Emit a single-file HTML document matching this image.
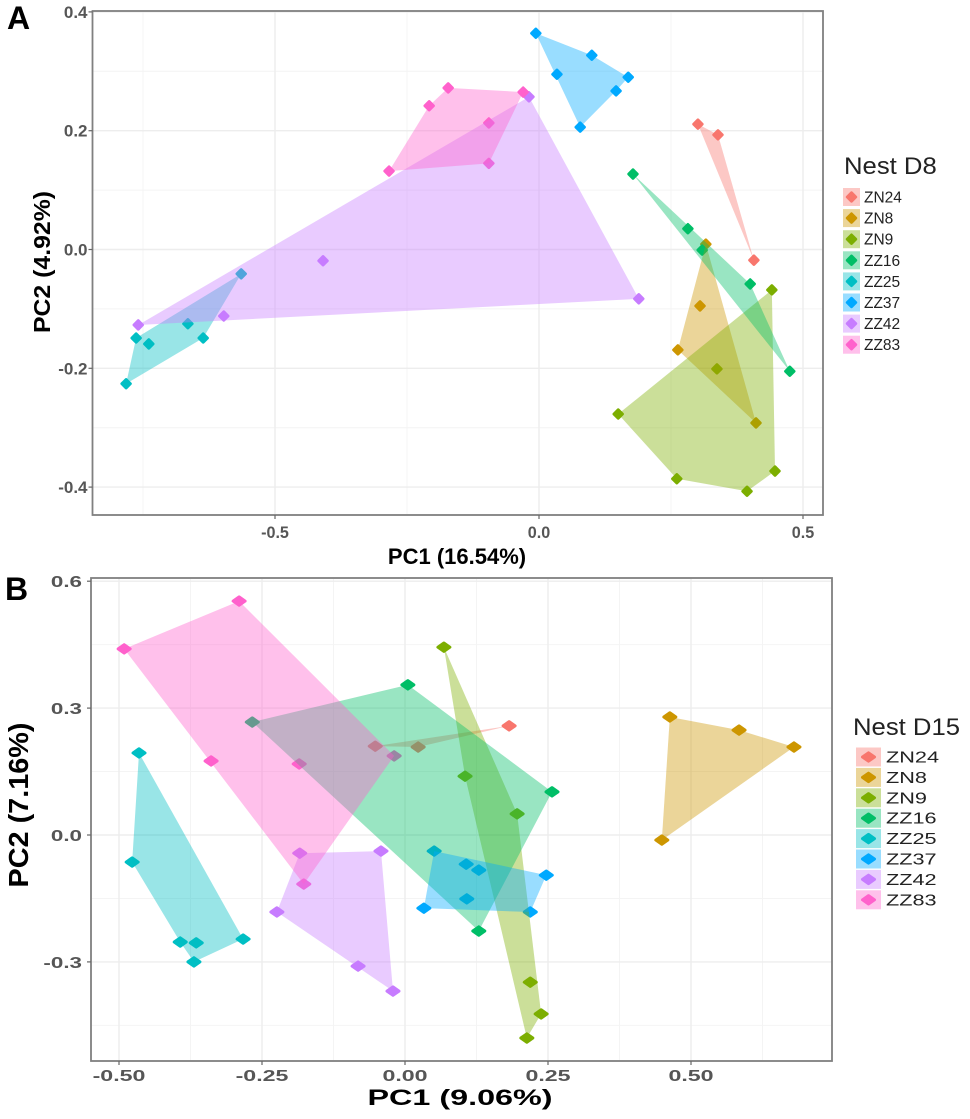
<!DOCTYPE html>
<html>
<head>
<meta charset="utf-8">
<title>PCA Nest D8 and D15</title>
<style>
html,body{margin:0;padding:0;background:#fff;width:970px;height:1119px;overflow:hidden}
svg{display:block;position:absolute;left:0;top:0}
text{font-family:"Liberation Sans",sans-serif}
</style>
</head>
<body>
<svg id="chart" width="970" height="1119" viewBox="0 0 970 1119" xmlns="http://www.w3.org/2000/svg"></svg>
<script>
const groups = ["ZN24","ZN8","ZN9","ZZ16","ZZ25","ZZ37","ZZ42","ZZ83"];
const colors = ["#F8766D","#CD9600","#7CAE00","#00BE67","#00BFC4","#00A9FF","#C77CFF","#FF61CC"];

const panelA_PC1 = [
  [0.301,0.339,0.407],
  [0.316,0.305,0.263,0.411],
  [0.150,0.261,0.394,0.447,0.441,0.337],
  [0.178,0.282,0.309,0.400,0.475],
  [-0.782,-0.763,-0.739,-0.665,-0.636,-0.564],
  [-0.006,0.100,0.169,0.146,0.078,0.034],
  [-0.019,0.189,-0.597,-0.759,-0.409],
  [-0.284,-0.208,-0.172,-0.030,-0.095,-0.095]
];
const panelA_PC2 = [
  [0.211,0.193,-0.018],
  [0.009,-0.095,-0.169,-0.292],
  [-0.277,-0.386,-0.407,-0.373,-0.068,-0.201],
  [0.127,0.035,-0.001,-0.058,-0.205],
  [-0.226,-0.149,-0.159,-0.125,-0.149,-0.041],
  [0.364,0.327,0.290,0.267,0.206,0.295],
  [0.257,-0.083,-0.112,-0.127,-0.019],
  [0.132,0.242,0.272,0.265,0.213,0.145]
];
const panelB_PC1 = [
  [0.182,-0.052,0.023],
  [0.463,0.584,0.680,0.449],
  [0.068,0.105,0.196,0.219,0.238,0.213],
  [-0.267,0.005,0.257,0.129],
  [-0.465,-0.477,-0.393,-0.365,-0.369,-0.283],
  [0.051,0.107,0.129,0.247,0.219,0.033,0.108],
  [-0.184,-0.042,-0.224,-0.082,-0.021],
  [-0.290,-0.491,-0.339,-0.185,-0.019,-0.177]
];
const panelB_PC2 = [
  [0.258,0.210,0.208],
  [0.279,0.248,0.208,-0.012],
  [0.444,0.139,0.050,-0.348,-0.423,-0.480],
  [0.267,0.355,0.102,-0.227],
  [0.194,-0.064,-0.253,-0.255,-0.300,-0.246],
  [-0.038,-0.069,-0.083,-0.095,-0.182,-0.173,-0.151],
  [-0.043,-0.038,-0.182,-0.310,-0.369],
  [0.553,0.440,0.175,0.168,0.187,-0.116]
];

const panelA_xTicks = [-0.5,0,0.5];
const panelA_xLabels = ["-0.5","0.0","0.5"];
const panelA_xMinor = [-0.75,-0.25,0.25];
const panelA_yTicks = [0.4,0.2,0,-0.2,-0.4];
const panelA_yLabels = ["0.4","0.2","0.0","-0.2","-0.4"];
const panelA_yMinor = [0.3,0.1,-0.1,-0.3];

const panelB_xTicks = [-0.5,-0.25,0,0.25,0.5];
const panelB_xLabels = ["-0.50","-0.25","0.00","0.25","0.50"];
const panelB_xMinor = [-0.375,-0.125,0.125,0.375,0.625];
const panelB_yTicks = [0.6,0.3,0,-0.3];
const panelB_yLabels = ["0.6","0.3","0.0","-0.3"];
const panelB_yMinor = [0.45,0.15,-0.15,-0.45];

const svg = document.getElementById('chart');
const NS = 'http://www.w3.org/2000/svg';

function make(tag, parent, props){
  const el = document.createElementNS(NS, tag);
  for (const k in props) el.setAttribute(k, props[k]);
  parent.appendChild(el);
  return el;
}
function label(parent, str, x, y, size, weight, fill, anchor, stretch, rotate){
  const t = make('text', parent, {
    transform: 'translate(' + x + ' ' + y + ')' + (rotate ? ' rotate(' + rotate + ')' : '') + ' scale(' + stretch + ' 1)',
    'font-size': size, 'font-weight': weight, fill: fill, 'text-anchor': anchor
  });
  t.textContent = str;
  return t;
}
function hull(pts){
  const p = pts.slice().sort(function(a,b){return a[0]-b[0] || a[1]-b[1];});
  const cross = function(o,a,b){return (a[0]-o[0])*(b[1]-o[1])-(a[1]-o[1])*(b[0]-o[0]);};
  const lo = [], up = [];
  for (const q of p){ while(lo.length>1 && cross(lo[lo.length-2],lo[lo.length-1],q)<=0) lo.pop(); lo.push(q); }
  for (const q of p.slice().reverse()){ while(up.length>1 && cross(up[up.length-2],up[up.length-1],q)<=0) up.pop(); up.push(q); }
  lo.pop(); up.pop();
  return lo.concat(up);
}

function drawPanel(cfg){
  const sx = function(v){return cfg.x0 + v*cfg.kx;};
  const sy = function(v){return cfg.y0 - v*cfg.ky;};
  const g = make('g', svg, {});
  
  

  const grid = make('g', g, {});
  
  
  cfg.xMinor.forEach(function(v){ make('line', grid, {x1:sx(v),x2:sx(v),y1:cfg.top,y2:cfg.bottom,stroke:'#f4f4f4','stroke-width':1}); });
  cfg.yMinor.forEach(function(v){ make('line', grid, {x1:cfg.left,x2:cfg.right,y1:sy(v),y2:sy(v),stroke:'#f4f4f4','stroke-width':1}); });
  cfg.xTicks.forEach(function(v){ make('line', grid, {x1:sx(v),x2:sx(v),y1:cfg.top,y2:cfg.bottom,stroke:'#ededed','stroke-width':1.4}); });
  cfg.yTicks.forEach(function(v){ make('line', grid, {x1:cfg.left,x2:cfg.right,y1:sy(v),y2:sy(v),stroke:'#ededed','stroke-width':1.4}); });

  const pts = make('g', g, {});
  
  
  groups.forEach(function(name, i){
    cfg.px[i].forEach(function(v, j){
      const cx = sx(v), cy = sy(cfg.py[i][j]);
      const m = make('polygon', pts, {
        points: (cx-cfg.mx)+','+cy+' '+cx+','+(cy-cfg.my)+' '+(cx+cfg.mx)+','+cy+' '+cx+','+(cy+cfg.my),
        fill: colors[i], stroke: colors[i], 'stroke-width': 3, 'stroke-linejoin': 'round'
      });
      
      
    });
  });

  const polys = make('g', g, {});
  
  
  groups.forEach(function(name, i){
    const h = hull(cfg.px[i].map(function(v, j){return [sx(v), sy(cfg.py[i][j])];}));
    const poly = make('polygon', polys, {
      points: h.map(function(q){return q[0]+','+q[1];}).join(' '),
      fill: colors[i], 'fill-opacity': 0.4
    });
    
    
  });

  const frame = make('rect', g, {x:cfg.left,y:cfg.top,width:cfg.right-cfg.left,height:cfg.bottom-cfg.top,fill:'none',stroke:'#808080','stroke-width':1.8});
  
  

  const xa = make('g', g, {});
  
  
  cfg.xTicks.forEach(function(v, i){
    make('line', xa, {x1:sx(v),x2:sx(v),y1:cfg.bottom,y2:cfg.bottom+4,stroke:'#666','stroke-width':1.2});
    const t = label(xa, cfg.xLabels[i], sx(v), cfg.xLabelY, cfg.tickSize, 'bold', '#565656', 'middle', cfg.xStretch);
    
    
  });
  const ya = make('g', g, {});
  
  
  cfg.yTicks.forEach(function(v, i){
    make('line', ya, {x1:cfg.left-4,x2:cfg.left,y1:sy(v),y2:sy(v),stroke:'#666','stroke-width':1.2});
    const t = label(ya, cfg.yLabels[i], cfg.left-cfg.yLabelGap, sy(v)+6, cfg.tickSize, 'bold', '#565656', 'end', cfg.yStretch);
    
    
  });

  const xt = label(g, cfg.xTitle, cfg.xTitleX, cfg.xTitleY, cfg.xTitleSize, 'bold', '#000', 'middle', cfg.xTitleStretch);
  
  
  const yt = label(g, cfg.yTitle, cfg.yTitleX, cfg.yTitleY, cfg.yTitleSize, 'bold', '#000', 'middle', cfg.yTitleStretch, -90);
  
  

  const lg = make('g', g, {});
  
  
  const lt = label(lg, cfg.legendTitle, cfg.lgTitleX, cfg.lgTitleY, 24, 'normal', '#222', 'start', cfg.lgTitleStretch);
  
  
  groups.forEach(function(name, i){
    const cy = cfg.lgY0 + i*cfg.lgStep;
    const entry = make('g', lg, {});
    
    
    make('rect', entry, {x:cfg.lgX,y:cy-cfg.lgH/2,width:cfg.lgW,height:cfg.lgH,fill:colors[i],'fill-opacity':0.4});
    const cx = cfg.lgX + cfg.lgW/2;
    make('polygon', entry, {
      points:(cx-cfg.mx)+','+cy+' '+cx+','+(cy-cfg.my)+' '+(cx+cfg.mx)+','+cy+' '+cx+','+(cy+cfg.my),
      fill:colors[i],stroke:colors[i],'stroke-width':3,'stroke-linejoin':'round'
    });
    label(entry, name, cfg.lgX+cfg.lgW+cfg.lgGap, cy+5.5, cfg.lgSize, 'normal', '#222', 'start', cfg.lgStretch);
  });
}

drawPanel({
  id:'panel-a', px:panelA_PC1, py:panelA_PC2,
  x0:539, kx:528, y0:249.5, ky:594,
  left:92.5, right:823, top:11, bottom:515,
  xTicks:panelA_xTicks, xLabels:panelA_xLabels, xMinor:panelA_xMinor,
  yTicks:panelA_yTicks, yLabels:panelA_yLabels, yMinor:panelA_yMinor,
  mx:4.2, my:4.2, tickSize:17, xLabelY:538, xStretch:0.95, yStretch:1, yLabelGap:5,
  xTitle:'PC1 (16.54%)', xTitleX:457, xTitleY:564, xTitleSize:22, xTitleStretch:1.0,
  yTitle:'PC2 (4.92%)', yTitleX:50, yTitleY:262, yTitleSize:23, yTitleStretch:1.08,
  legendTitle:'Nest D8', lgTitleX:844, lgTitleY:174, lgTitleStretch:1.07,
  lgX:843, lgY0:197, lgStep:21.1, lgW:17, lgH:18, lgGap:4, lgSize:15.5, lgStretch:1.0
});
drawPanel({
  id:'panel-b', px:panelB_PC1, py:panelB_PC2,
  x0:405, kx:572, y0:835, ky:423,
  left:91, right:832, top:578, bottom:1061,
  xTicks:panelB_xTicks, xLabels:panelB_xLabels, xMinor:panelB_xMinor,
  yTicks:panelB_yTicks, yLabels:panelB_yLabels, yMinor:panelB_yMinor,
  mx:6, my:4.2, tickSize:16, xLabelY:1081, xStretch:1.45, yStretch:1.4, yLabelGap:9,
  xTitle:'PC1 (9.06%)', xTitleX:460, xTitleY:1105, xTitleSize:22, xTitleStretch:1.47,
  yTitle:'PC2 (7.16%)', yTitleX:28, yTitleY:805, yTitleSize:28, yTitleStretch:1.03,
  legendTitle:'Nest D15', lgTitleX:853, lgTitleY:735, lgTitleStretch:1.07,
  lgX:856, lgY0:757, lgStep:20.4, lgW:25, lgH:19, lgGap:5, lgSize:15.5, lgStretch:1.4
});

const letterA = label(svg, 'A', 7, 29, 32, 'bold', '#000', 'start', 1);


const letterB = label(svg, 'B', 5, 600, 32, 'bold', '#000', 'start', 1);


</script>
</body>
</html>
